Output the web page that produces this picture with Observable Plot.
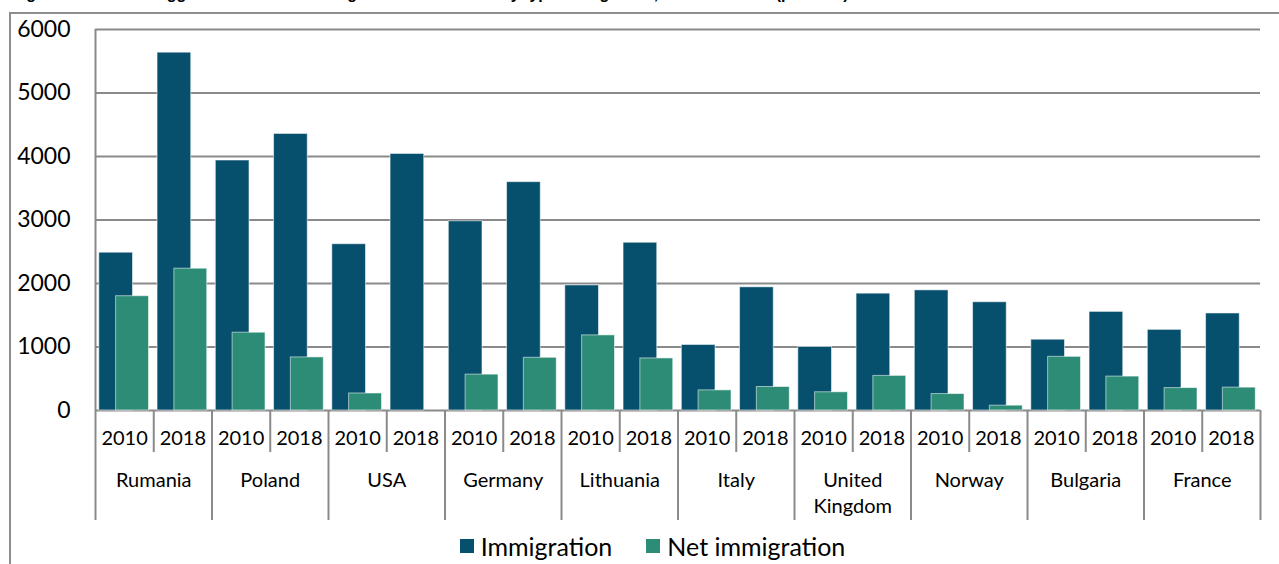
<!DOCTYPE html>
<html>
<head>
<meta charset="utf-8">
<script src="https://cdn.jsdelivr.net/npm/d3@7"></script>
<script src="https://cdn.jsdelivr.net/npm/@observablehq/plot@0.6"></script>
<style>
  html, body { margin: 0; padding: 0; background: #fff; overflow: hidden; width: 1279px; height: 564px; }
  body { position: relative; }
  #title { position: absolute; left: 12px; top: -14px; font: bold 16px "Liberation Sans", sans-serif; white-space: nowrap; line-height: 16px; color: #000; }
  #box { position: absolute; left: 9px; top: 12px; width: 1400px; height: 700px; border-left: 2px solid #8e8e8e; border-top: 2px solid #8e8e8e; box-sizing: border-box; }
  #fig { position: absolute; left: 0; top: 0; width: 1279px; }
  #fig svg { display: block; }
  #legend { height: 36px; display: flex; justify-content: center; align-items: center; font-family: Lato, sans-serif; font-size: 25px; color: #000; padding-left: 26px; }
  .item { display: flex; align-items: center; margin: 0 17px; }
  .sw { width: 14px; height: 14px; margin-right: 7px; }
</style>
</head>
<body>
<div id="title">Figure 11. The ten biggest countries of immigration to Lithuania by type of migration, 2010 and 2018 (persons)</div>
<div id="box"></div>
<div id="fig"></div>
<script>
const countries = ["Rumania", "Poland", "USA", "Germany", "Lithuania", "Italy", "United Kingdom", "Norway", "Bulgaria", "France"];
const years = ["2010", "2018"];
const immigration2010 = [2485, 3937, 2619, 2980, 1970, 1032, 1000, 1892, 1115, 1270];
const immigration2018 = [5635, 4355, 4040, 3596, 2642, 1940, 1840, 1705, 1553, 1528];
const net2010 = [1800, 1225, 268, 565, 1183, 317, 287, 259, 845, 353];
const net2018 = [2233, 836, 0, 830, 820, 370, 545, 76, 534, 360];
const yTicks = [0, 1000, 2000, 3000, 4000, 5000, 6000];
const seriesNames = ["Immigration", "Net immigration"];
const seriesColors = ["#07506d", "#2d8c76"];

const W = 1279, H = 528, mL = 95, mR = 19, mT = 29, mB = 118;
const frameH = H - mT - mB;
const nBands = countries.length * years.length;
const bw = (W - mL - mR) / nBands;

const rows = countries.flatMap((c, ci) => years.map((yr, yi) => ({
  country: c, year: yr, i: ci * years.length + yi,
  imm: (yi ? immigration2018 : immigration2010)[ci],
  net: (yi ? net2018 : net2010)[ci]
})));
const countryEdges = countries.map((c, ci) => ci * years.length).concat([nBands]);
const yearEdges = rows.filter(d => d.year === years[1]).map(d => d.i);

const gridColor = "#8a8a8a";

const chart = Plot.plot({
  width: W, height: H,
  marginLeft: mL, marginRight: mR, marginTop: mT, marginBottom: mB,
  style: { fontFamily: "Lato, sans-serif", fontSize: "23px", color: "#000", background: "transparent", overflow: "visible" },
  x: { type: "linear", domain: [0, nBands], axis: null },
  y: { domain: [0, 6000], ticks: yTicks, tickSize: 0, tickPadding: 25, tickFormat: "d", label: null },
  marks: [
    Plot.ruleY(yTicks, { stroke: gridColor, strokeWidth: 2 }),
    Plot.ruleX([0], { stroke: gridColor, strokeWidth: 2 }),
    Plot.rectY(rows, { x1: d => d.i, x2: d => d.i + 1, y1: 0, y2: "imm", fill: seriesColors[0], insetLeft: 3.8, insetRight: bw - 37.5, stroke: "#ffffff", strokeOpacity: 0.55, strokeWidth: 1 }),
    Plot.rectY(rows, { x1: d => d.i, x2: d => d.i + 1, y1: 0, y2: "net", fill: seriesColors[1], insetLeft: 20.6, insetRight: 4.75, stroke: "#ffffff", strokeOpacity: 0.55, strokeWidth: 1 }),
    Plot.ruleX(yearEdges, { stroke: gridColor, strokeWidth: 2, insetTop: frameH, insetBottom: -42 }),
    Plot.ruleX(countryEdges, { stroke: gridColor, strokeWidth: 2, insetTop: frameH, insetBottom: -110 }),
    Plot.text(rows, { x: d => d.i + 0.5, text: "year", frameAnchor: "bottom", dy: 28, lineAnchor: "middle", fontSize: 20, fill: "#000" }),
    Plot.text(countries, { x: (d, k) => k * years.length + years.length / 2, text: d => d, frameAnchor: "bottom", dy: 58, lineAnchor: "top", fontSize: 20, lineWidth: 6, lineHeight: 1.3, fill: "#000" })
  ]
});
document.getElementById("fig").appendChild(chart);

const legend = document.createElement("div");
legend.id = "legend";
seriesNames.forEach((n, k) => {
  const it = document.createElement("div");
  it.className = "item";
  const sw = document.createElement("div");
  sw.className = "sw";
  sw.style.background = seriesColors[k];
  const t = document.createElement("span");
  t.textContent = n;
  it.appendChild(sw); it.appendChild(t);
  legend.appendChild(it);
});
document.getElementById("fig").appendChild(legend);
</script>
</body>
</html>
